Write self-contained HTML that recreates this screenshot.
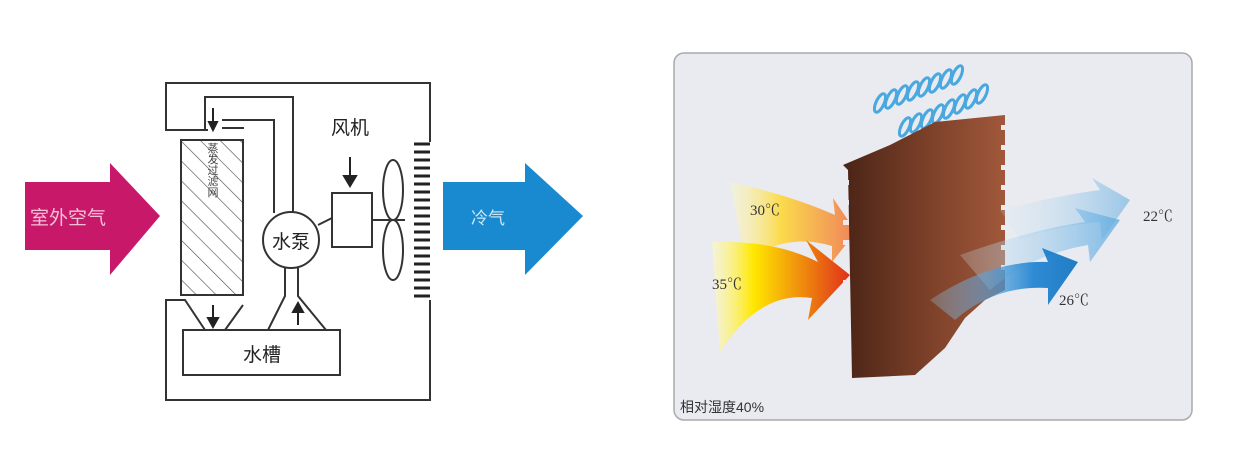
<!DOCTYPE html>
<html><head><meta charset="utf-8"><style>
body{margin:0;background:#fff;width:1245px;height:472px;overflow:hidden}
svg{display:block}
text{font-family:"Liberation Sans","Noto Sans CJK SC",sans-serif}
.t{font-family:"Liberation Serif","Noto Serif CJK SC",serif}
</style></head><body>
<svg width="1245" height="472" viewBox="0 0 1245 472">
<defs>
<pattern id="h" width="14" height="14" patternUnits="userSpaceOnUse" patternTransform="rotate(-45)"><line x1="0" y1="0" x2="0" y2="14" stroke="#555" stroke-width="1.3"/></pattern>
<linearGradient id="brown" x1="0" y1="0" x2="1" y2="0"><stop offset="0" stop-color="#4a2416"/><stop offset="0.5" stop-color="#7a3f28"/><stop offset="1" stop-color="#a0583a"/></linearGradient>
<linearGradient id="warm" x1="0" y1="0" x2="1" y2="0"><stop offset="0" stop-color="#fffbc0" stop-opacity="0.5"/><stop offset="0.3" stop-color="#ffe800"/><stop offset="1" stop-color="#e0301a"/></linearGradient>
<linearGradient id="warm2" x1="0" y1="0" x2="1" y2="0"><stop offset="0" stop-color="#fffbc0" stop-opacity="0.4"/><stop offset="0.4" stop-color="#ffd830"/><stop offset="1" stop-color="#f07040"/></linearGradient>
<linearGradient id="cool" x1="0" y1="0" x2="1" y2="0"><stop offset="0" stop-color="#9ccff0" stop-opacity="0.3"/><stop offset="0.7" stop-color="#1a80d0"/><stop offset="1" stop-color="#0a70c0"/></linearGradient>
<linearGradient id="cool2" x1="0" y1="0" x2="1" y2="0"><stop offset="0" stop-color="#d8ecf8" stop-opacity="0.3"/><stop offset="1" stop-color="#5aa8e0"/></linearGradient>
</defs>
<!-- left diagram -->
<polygon points="25,182 110,182 110,163 160,216 110,275 110,250 25,250" fill="#c8186a"/>
<text x="68" y="224" font-size="19" fill="#f3c0d8" text-anchor="middle">室外空气</text>
<polygon points="443,182 525,182 525,163 583,216 525,275 525,250 443,250" fill="#1a8ad0"/>
<text x="488" y="224" font-size="17" fill="#cde8f8" text-anchor="middle">冷气</text>
<g fill="none" stroke="#333" stroke-width="2">
<polyline points="208,130 166,130 166,83 430,83 430,142"/>
<polyline points="205,130 205,97 293,97 293,212"/>
<polyline points="244,128 222,128"/>
<polyline points="222,120 274,120 274,213"/>
<rect x="181" y="140" width="62" height="155" fill="url(#h)"/>
<circle cx="291" cy="240" r="28" fill="#fff"/>
<rect x="332" y="193" width="40" height="54" fill="#fff"/>
<line x1="318" y1="225" x2="332" y2="218"/>
<line x1="372" y1="220" x2="405" y2="220"/>
<ellipse cx="393" cy="190" rx="10" ry="30"/>
<ellipse cx="393" cy="250" rx="10" ry="30"/>
<polyline points="430,300 430,400 166,400 166,300 185,300 205,330"/>
<line x1="243" y1="305" x2="225" y2="330"/>
<rect x="183" y="330" width="157" height="45" fill="#fff"/>
<polyline points="285,268 285,296 268,330"/>
<polyline points="298,268 298,296 326,330"/>
</g>
<g stroke="#222" stroke-width="3">
<line x1="414" y1="144" x2="430" y2="144"/><line x1="414" y1="152" x2="430" y2="152"/><line x1="414" y1="160" x2="430" y2="160"/><line x1="414" y1="168" x2="430" y2="168"/><line x1="414" y1="176" x2="430" y2="176"/><line x1="414" y1="184" x2="430" y2="184"/><line x1="414" y1="192" x2="430" y2="192"/><line x1="414" y1="200" x2="430" y2="200"/><line x1="414" y1="208" x2="430" y2="208"/><line x1="414" y1="216" x2="430" y2="216"/><line x1="414" y1="224" x2="430" y2="224"/><line x1="414" y1="232" x2="430" y2="232"/><line x1="414" y1="240" x2="430" y2="240"/><line x1="414" y1="248" x2="430" y2="248"/><line x1="414" y1="256" x2="430" y2="256"/><line x1="414" y1="264" x2="430" y2="264"/><line x1="414" y1="272" x2="430" y2="272"/><line x1="414" y1="280" x2="430" y2="280"/><line x1="414" y1="288" x2="430" y2="288"/><line x1="414" y1="296" x2="430" y2="296"/>
</g>
<g stroke="#222" stroke-width="2" fill="#222">
<line x1="350" y1="157" x2="350" y2="178"/><polygon points="344,176 356,176 350,186"/>
<line x1="213" y1="108" x2="213" y2="124"/><polygon points="209,122 217,122 213,130"/>
<line x1="213" y1="305" x2="213" y2="320"/><polygon points="208,318 218,318 213,327"/>
<line x1="298" y1="325" x2="298" y2="310"/><polygon points="293,312 303,312 298,303"/>
</g>
<text x="212" y="170" font-size="11" fill="#444" text-anchor="middle" writing-mode="tb">蒸发过滤网</text>
<text x="291" y="248" font-size="19" fill="#222" text-anchor="middle">水泵</text>
<text x="350" y="134" font-size="19" fill="#222" text-anchor="middle">风机</text>
<text x="262" y="361" font-size="19" fill="#222" text-anchor="middle">水槽</text>
<!-- right panel -->
<rect x="674" y="53" width="518" height="367" rx="10" fill="#e9ebf0" stroke="#aaa" stroke-width="1.5"/>
<g fill="none" stroke="#49a8e0" stroke-width="3">
<ellipse cx="880" cy="103" rx="4" ry="10" transform="rotate(25 880 103)"/><ellipse cx="891" cy="99" rx="4" ry="10" transform="rotate(25 891 99)"/><ellipse cx="902" cy="95" rx="4" ry="10" transform="rotate(25 902 95)"/><ellipse cx="913" cy="91" rx="4" ry="10" transform="rotate(25 913 91)"/><ellipse cx="924" cy="87" rx="4" ry="10" transform="rotate(25 924 87)"/><ellipse cx="935" cy="83" rx="4" ry="10" transform="rotate(25 935 83)"/><ellipse cx="946" cy="79" rx="4" ry="10" transform="rotate(25 946 79)"/><ellipse cx="957" cy="75" rx="4" ry="10" transform="rotate(25 957 75)"/>
<ellipse cx="905" cy="127" rx="4" ry="10" transform="rotate(25 905 127)"/><ellipse cx="916" cy="123" rx="4" ry="10" transform="rotate(25 916 123)"/><ellipse cx="927" cy="119" rx="4" ry="10" transform="rotate(25 927 119)"/><ellipse cx="938" cy="114" rx="4" ry="10" transform="rotate(25 938 114)"/><ellipse cx="949" cy="109" rx="4" ry="10" transform="rotate(25 949 109)"/><ellipse cx="960" cy="104" rx="4" ry="10" transform="rotate(25 960 104)"/><ellipse cx="971" cy="99" rx="4" ry="10" transform="rotate(25 971 99)"/><ellipse cx="982" cy="94" rx="4" ry="10" transform="rotate(25 982 94)"/>
</g>
<!-- warm arrows -->
<path d="M730,182 Q790,195 835,215 L833,198 L856,232 L832,262 L832,246 Q785,232 745,262 Z" fill="url(#warm2)" opacity="0.85"/>
<path d="M712,242 Q775,240 818,262 L806,240 L850,275 L808,320 L812,298 Q760,290 720,352 Z" fill="url(#warm)"/>
<!-- pad -->
<polygon points="843,165 890,145 935,122 1005,115 1005,290 985,300 965,318 945,348 915,375 852,378 848,170" fill="url(#brown)"/>
<g fill="#e9ebf0">
<rect x="843" y="180" width="6" height="5"/><rect x="843" y="200" width="6" height="5"/><rect x="843" y="220" width="6" height="5"/><rect x="843" y="240" width="6" height="5"/><rect x="843" y="260" width="6" height="5"/><rect x="843" y="280" width="6" height="5"/><rect x="843" y="300" width="6" height="5"/><rect x="843" y="320" width="6" height="5"/><rect x="843" y="340" width="6" height="5"/><rect x="843" y="360" width="6" height="5"/>
<rect x="1001" y="125" width="6" height="5"/><rect x="1001" y="145" width="6" height="5"/><rect x="1001" y="165" width="6" height="5"/><rect x="1001" y="185" width="6" height="5"/><rect x="1001" y="205" width="6" height="5"/><rect x="1001" y="225" width="6" height="5"/><rect x="1001" y="245" width="6" height="5"/><rect x="1001" y="265" width="6" height="5"/>
</g>
<!-- cool arrows -->
<path d="M1000,210 Q1060,195 1100,190 L1092,178 L1130,200 L1102,240 L1100,222 Q1060,225 1020,240 Z" fill="url(#cool2)" opacity="0.55"/>
<path d="M960,255 Q1030,230 1085,222 L1075,208 L1120,220 L1090,262 L1088,245 Q1030,255 990,290 Z" fill="url(#cool2)" opacity="0.75"/>
<path d="M930,300 Q990,260 1048,262 L1042,248 L1078,262 L1048,305 L1048,288 Q995,285 955,320 Z" fill="url(#cool)" opacity="0.9"/>
<text class="t" x="765" y="215" font-size="15" fill="#333" text-anchor="middle">30℃</text>
<text class="t" x="727" y="289" font-size="15" fill="#333" text-anchor="middle">35℃</text>
<text class="t" x="1158" y="221" font-size="15" fill="#333" text-anchor="middle">22℃</text>
<text class="t" x="1074" y="305" font-size="15" fill="#333" text-anchor="middle">26℃</text>
<text x="680" y="412" font-size="14" fill="#333">相对湿度40%</text>
</svg>
</body></html>
